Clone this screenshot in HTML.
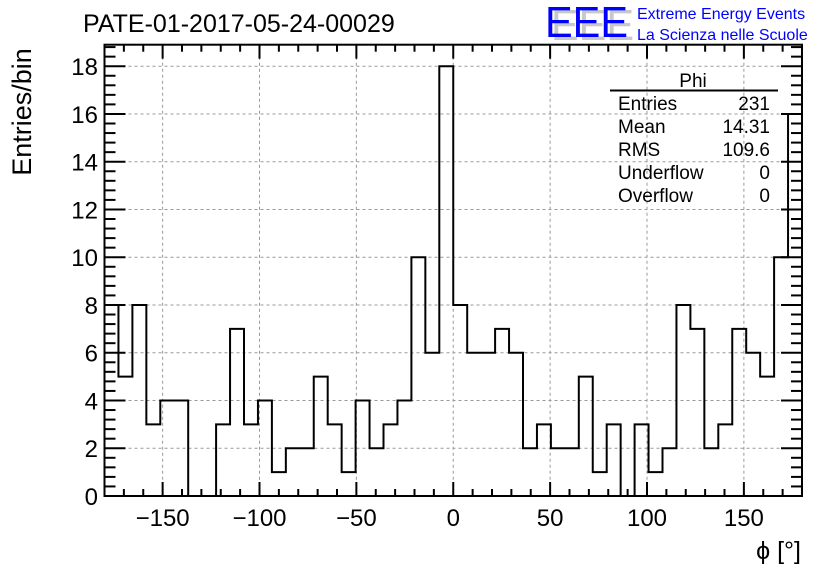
<!DOCTYPE html>
<html><head><meta charset="utf-8"><style>
body{margin:0;background:#fff}
svg{display:block;font-family:"Liberation Sans",Arial,sans-serif}
</style></head><body>
<svg id="chart" width="836" height="572" viewBox="0 0 836 572" xmlns="http://www.w3.org/2000/svg">
<rect x="0" y="0" width="836" height="572" fill="#fff"/>
<text x="83" y="32" font-size="25">PATE-01-2017-05-24-00029</text>
<g>
<text x="551" y="40" font-size="44" fill="#c8c8c8" textLength="83" lengthAdjust="spacingAndGlyphs">EEE</text>
<text x="545" y="37" font-size="44" fill="#0000ff" textLength="83" lengthAdjust="spacingAndGlyphs">EEE</text>
<text x="637" y="19" font-size="16" fill="#0000ff">Extreme Energy Events</text>
<text x="637" y="40" font-size="16" fill="#0000ff">La Scienza nelle Scuole</text>
</g>
<g id="grid"></g>
<g id="hist"></g>
<g id="axes"></g>
<g font-size="19">
<text x="693" y="87" text-anchor="middle">Phi</text>
<line x1="610" y1="90.5" x2="778" y2="90.5" stroke="#000" stroke-width="2"/>
<text x="618" y="110">Entries</text><text x="770" y="110" text-anchor="end">231</text>
<text x="618" y="133">Mean</text><text x="770" y="133" text-anchor="end">14.31</text>
<text x="618" y="156">RMS</text><text x="770" y="156" text-anchor="end">109.6</text>
<text x="618" y="179">Underflow</text><text x="770" y="179" text-anchor="end">0</text>
<text x="618" y="202">Overflow</text><text x="770" y="202" text-anchor="end">0</text>
</g>
<text transform="translate(31,112) rotate(-90)" text-anchor="middle" font-size="27">Entries/bin</text>
<text x="801" y="559" text-anchor="end" font-size="25">ϕ [°]</text>
</svg>
<script>
const counts=[8,5,8,3,4,4,0,0,3,7,3,4,1,2,2,5,3,1,4,2,3,4,10,6,18,8,6,6,7,6,2,3,2,2,5,1,3,0,3,1,2,8,7,2,3,7,6,5,10,16];
const xMin=-180, xMax=180, yMin=0, yMax=18.9;
const xTicks=[-150,-100,-50,0,50,100,150];
const xTickLabels=["\u2212150","\u2212100","\u221250","0","50","100","150"];
const yTicks=[0,2,4,6,8,10,12,14,16,18];
const yTickLabels=["0","2","4","6","8","10","12","14","16","18"];
const L=104.5,R=802,T=44.7,B=496;
const NS="http://www.w3.org/2000/svg";
const X=v=>L+(v-xMin)/(xMax-xMin)*(R-L);
const Y=v=>B-(v-yMin)/(yMax-yMin)*(B-T);
function mk(tag,attrs,parent){const e=document.createElementNS(NS,tag);for(const k in attrs)e.setAttribute(k,attrs[k]);parent.appendChild(e);return e;}
const grid=document.getElementById('grid'),hist=document.getElementById('hist'),axes=document.getElementById('axes');
xTicks.forEach(t=>{const g=mk('line',{x1:X(t),x2:X(t),y1:T,y2:B,stroke:'#999','stroke-dasharray':'3,3','stroke-width':1},grid);

});
yTicks.forEach(t=>{if(t===0)return;const g=mk('line',{x1:L,x2:R,y1:Y(t),y2:Y(t),stroke:'#999','stroke-dasharray':'3,3','stroke-width':1},grid);

});
const bw=(xMax-xMin)/counts.length;
let d='M'+X(xMin)+','+Y(0);
counts.forEach((c,i)=>{d+=' L'+X(xMin+i*bw)+','+Y(c)+' L'+X(xMin+(i+1)*bw)+','+Y(c);});
d+=' L'+X(xMax)+','+Y(0);
const p=mk('path',{d:d,fill:'none',stroke:'#000','stroke-width':2},hist);


const fr=mk('rect',{x:L,y:T,width:R-L,height:B-T,fill:'none',stroke:'#000','stroke-width':2},axes);


for(let v=-180;v<=180;v+=10){const major=(v%50===0);const len=major?14:7;
mk('line',{x1:X(v),x2:X(v),y1:B,y2:B-len,stroke:'#000','stroke-width':2},axes);
mk('line',{x1:X(v),x2:X(v),y1:T,y2:T+len,stroke:'#000','stroke-width':2},axes);}
for(let v=0;v<=18.8;v+=0.4){const major=Math.abs(v/2-Math.round(v/2))<1e-6;const len=major?21:11;
mk('line',{x1:L,x2:L+len,y1:Y(v),y2:Y(v),stroke:'#000','stroke-width':2},axes);
mk('line',{x1:R,x2:R-len,y1:Y(v),y2:Y(v),stroke:'#000','stroke-width':2},axes);}
xTicks.forEach((t,i)=>{const e=mk('text',{x:X(t),y:526,'text-anchor':'middle','font-size':24},axes);e.textContent=xTickLabels[i];

});
yTicks.forEach((t,i)=>{const e=mk('text',{x:98,y:Y(t)+9,'text-anchor':'end','font-size':24},axes);e.textContent=yTickLabels[i];

});
</script>
</body></html>
